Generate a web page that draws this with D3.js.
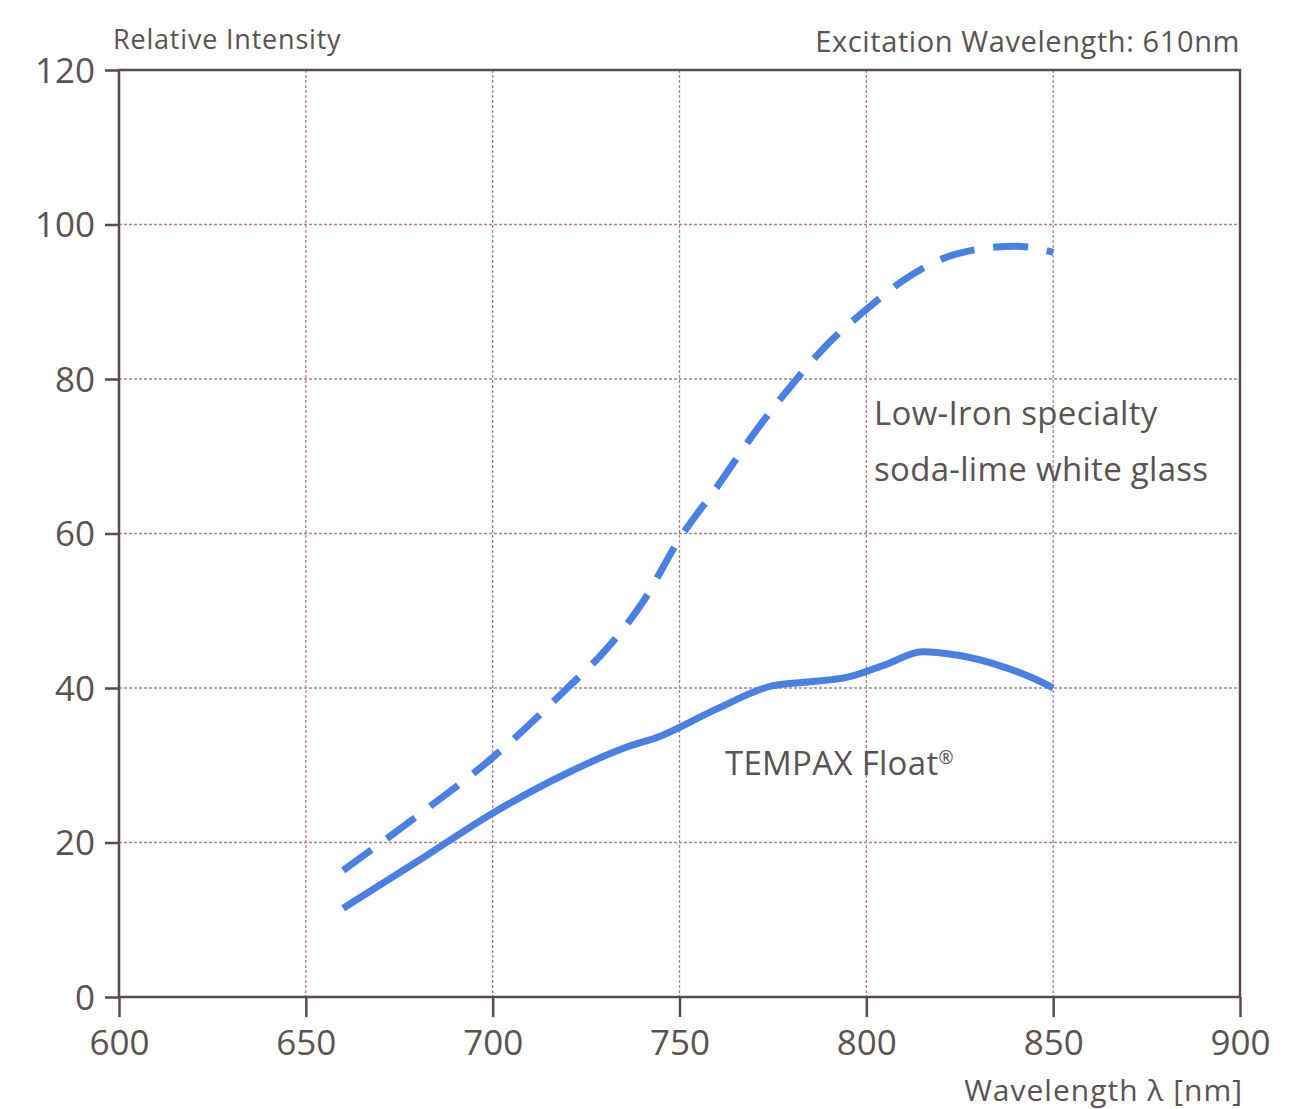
<!DOCTYPE html>
<html><head><meta charset="utf-8">
<script src="https://cdn.jsdelivr.net/npm/d3@7"></script>
<style>body{margin:0;background:#fff;} svg{display:block;}</style>
</head><body>
<svg id="c" width="1302" height="1109"></svg>
<script>
const xTicks = [600, 650, 700, 750, 800, 850, 900];
const yTicks = [0, 20, 40, 60, 80, 100, 120];
const tempaxWl  = [660, 680, 700, 720, 735, 745, 760, 775, 785, 795, 805, 815, 825, 835, 845, 850];
const tempaxVal = [11.5, 17.6, 23.8, 29.0, 32.2, 33.8, 37.3, 40.3, 40.8, 41.4, 43.0, 44.7, 44.2, 43.0, 41.2, 40.0];
const lowIronWl  = [660, 680, 700, 720, 730, 740, 750, 760, 770, 780, 790, 800, 810, 820, 830, 840, 850];
const lowIronVal = [16.4, 23.5, 31.0, 40.0, 44.8, 51.0, 59.3, 66.0, 73.0, 79.2, 84.7, 89.0, 92.8, 95.5, 96.8, 97.2, 96.4];

const svg = d3.select("#c");
const x = d3.scaleLinear().domain([600, 900]).range([119, 1240]);
const y = d3.scaleLinear().domain([0, 120]).range([997, 70]);
const font = "'Open Sans', 'Lato', sans-serif";
const txt = "#5a5252";

// grid
const grid = svg.append("g");
grid.selectAll(".gx").data(xTicks.slice(1, -1)).join("line")
  .attr("x1", d => x(d)).attr("x2", d => x(d)).attr("y1", y(120)).attr("y2", y(0))
  .attr("stroke", "#a88484").attr("stroke-width", 1.3).attr("stroke-dasharray", "3,2");
grid.selectAll(".gy").data(yTicks.slice(1, -1)).join("line")
  .attr("x1", x(600)).attr("x2", x(900)).attr("y1", d => y(d)).attr("y2", d => y(d))
  .attr("stroke", "#a88484").attr("stroke-width", 1.3).attr("stroke-dasharray", "3,2");

// axes
const xAxis = d3.axisBottom(x).tickValues(xTicks).tickSize(20).tickPadding(13).tickFormat(d3.format("d"));
const yAxis = d3.axisLeft(y).tickValues(yTicks).tickSize(14).tickPadding(10).tickFormat(d3.format("d"));
const gx = svg.append("g").attr("transform", `translate(0,${y(0)})`).call(xAxis);
const gy = svg.append("g").attr("transform", `translate(${x(600)},0)`).call(yAxis);
[gx, gy].forEach(g => {
  g.select(".domain").remove();
  g.selectAll(".tick line").attr("stroke", "#5a4a4e").attr("stroke-width", 2.5);
  g.selectAll(".tick text").attr("fill", txt).style("font-family", font).style("font-size", "35px");
});
gy.selectAll(".tick text").attr("dy", "0.35em");

// frame
svg.append("rect").attr("x", x(600)).attr("y", y(120)).attr("width", x(900) - x(600)).attr("height", y(0) - y(120))
  .attr("fill", "none").attr("stroke", "#5a4a4e").attr("stroke-width", 2.5);

// curves
const line = d3.line().x(d => x(d[0])).y(d => y(d[1])).curve(d3.curveMonotoneX);
const blue = "#4a80e2";
svg.append("path").datum(tempaxWl.map((w, i) => [w, tempaxVal[i]]))
  .attr("d", line).attr("fill", "none").attr("stroke", blue).attr("stroke-width", 7).attr("stroke-linecap", "butt");
svg.append("path").datum(lowIronWl.map((w, i) => [w, lowIronVal[i]]))
  .attr("d", line).attr("fill", "none").attr("stroke", blue).attr("stroke-width", 7)
  .attr("stroke-dasharray", "35,19").attr("stroke-linecap", "butt");

// texts
function t(str, xx, yy, size, anchor, ls) {
  return svg.append("text").attr("x", xx).attr("y", yy).attr("fill", txt)
    .style("font-family", font).style("font-size", size + "px").style("letter-spacing", (ls || 0) + "px")
    .attr("text-anchor", anchor || "start").text(str);
}
t("Relative Intensity", 113, 49, 27, "start", 0.8);
t("Excitation Wavelength: 610nm", 1240, 52, 29, "end", 0.6);
t("Low-Iron specialty", 874, 425, 33, "start", 0.3);
t("soda-lime white glass", 874, 481, 33, "start", 0.3);
const tp = t("TEMPAX Float", 725, 775, 33, "start", 0.3);
tp.append("tspan").style("font-size", "18px").attr("dy", -11).text("®");
t("Wavelength \u03bb [nm]", 1243, 1101, 30, "end", 1);
</script>
</body></html>
